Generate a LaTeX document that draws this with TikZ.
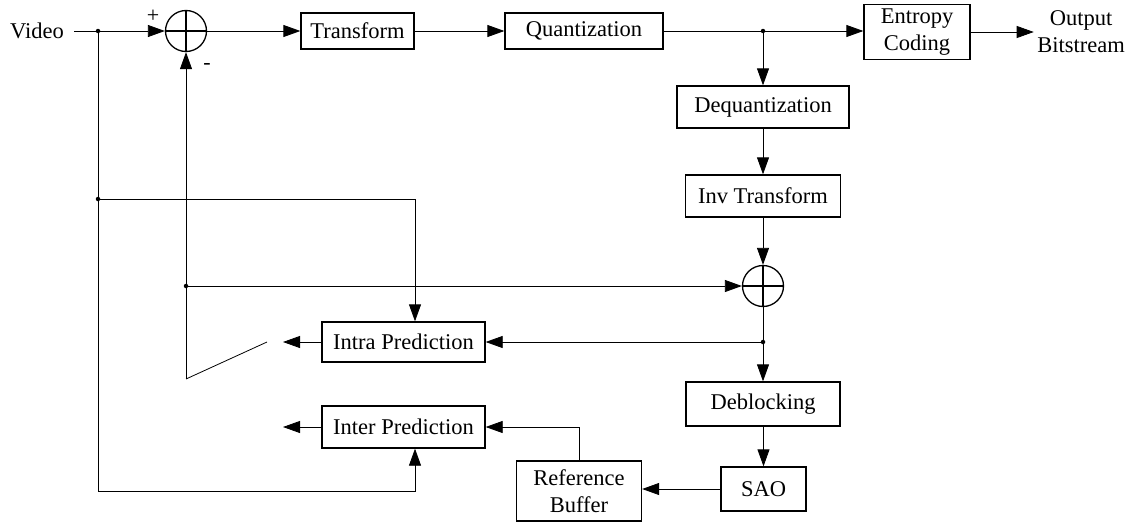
\documentclass[tikz,border=0pt]{standalone}
\usepackage{fontspec}
\setmainfont{Liberation Serif}
\usetikzlibrary{arrows.meta}
\begin{document}
\begin{tikzpicture}[x=1pt,y=-1pt,
  font=\fontsize{22.5}{25}\selectfont,
  blk/.style 2 args={draw, line width=1.3pt, minimum width=#1, minimum height=#2, inner sep=0pt, align=center},
  sumnode/.style={draw, circle, line width=1.3pt, minimum size=41pt, inner sep=0pt},
  conn/.style={line width=0.8pt},
  arr/.style={conn, -{Triangle[length=17pt,width=12pt]}},
  junction/.style={circle, fill, inner sep=0pt, minimum size=4.5pt},
  sign/.style={font=\fontsize{22}{22}\selectfont, inner sep=0pt}]
\useasboundingbox (0,0) rectangle (1127,522);
% nodes
\node (video) at (37,31) {Video};
\node[junction] (dA) at (98,31) {};
\node[sumnode] (s1) at (186,31) {};
\node[sign] (plus) at (153,16) {+};
\node[sign] (minus) at (207,66) {-};
\node[blk={113pt}{36pt}] (tr) at (357.5,31) {Transform};
\node[blk={158pt}{36pt}] (qu) at (584,31) {Quantization};
\node[junction] (dB) at (763,31) {};
\node[blk={106pt}{55pt}, font=\fontsize{22.5}{27}\selectfont] (ec) at (917,32) {Entropy\\Coding};
\node[align=center, font=\fontsize{22.5}{27}\selectfont] (out) at (1081,32) {Output\\Bitstream};
\node[blk={172pt}{42pt}] (dq) at (763,107) {Dequantization};
\node[blk={155pt}{42pt}] (it) at (763,196) {Inv Transform};
\node[sumnode] (s2) at (763,286) {};
\node[junction] (dC) at (763,342) {};
\node[blk={163pt}{40pt}] (intra) at (403.5,342) {Intra Prediction};
\node[blk={163pt}{42pt}] (inter) at (403.5,427) {Inter Prediction};
\node[blk={154pt}{44pt}] (deb) at (763,404) {Deblocking};
\node[blk={85pt}{44pt}] (sao) at (763.5,489) {SAO};
\node[blk={125pt}{60pt}, font=\fontsize{22.5}{27}\selectfont] (rb) at (579,491) {Reference\\Buffer};
\node[junction] (dE) at (98,199) {};
\node[junction] (dD) at (186,286) {};
\coordinate (intraOut) at (283,342);
\coordinate (interOut) at (283,427);
\coordinate (swA) at (186,379);
\coordinate (swB) at (267,342);
\coordinate (bl) at (98,491);
\coordinate (br) at (415,491);
\coordinate (tr2) at (415,199);
% sum crosses
\draw[line width=1.3pt] (s1.north) -- (s1.south) (s1.west) -- (s1.east);
\draw[line width=1.3pt] (s2.north) -- (s2.south) (s2.west) -- (s2.east);
% connectors
\draw[conn, shorten <=7pt] (video.east) -- (dA);
\draw[arr] (dA) -- (s1.west);
\draw[arr] (s1.east) -- (tr.west);
\draw[arr] (tr) -- (qu);
\draw[arr] (qu.east) -- (ec.west |- qu.east);
\draw[arr] (ec.east) -- (out.west |- ec.east);
\draw[arr] (dB) -- (dq);
\draw[arr] (dq) -- (it);
\draw[arr] (it) -- (s2);
\draw[conn] (s2.south) -- (dC);
\draw[arr] (dC) -- (deb);
\draw[arr] (deb.south -| sao) -- (sao);
\draw[arr] (dC) -- (intra.east);
\draw[arr] (intra.west) -- (intraOut);
\draw[arr] (inter.west) -- (interOut);
\draw[arr] (sao.west) -- (rb.east |- sao.west);
\draw[arr] (rb.north) |- (inter.east);
\draw[conn] (dA) -- (dE);
\draw[arr] (dE) -- (bl) -- (br) -- (br |- inter.south);
\draw[arr] (dE) -- (tr2) -- (tr2 |- intra.north);
\draw[arr] (swA) -- (s1.south);
\draw[conn] (swA) -- (swB);
\draw[arr] (dD) -- (s2.west);
\end{tikzpicture}
\end{document}
